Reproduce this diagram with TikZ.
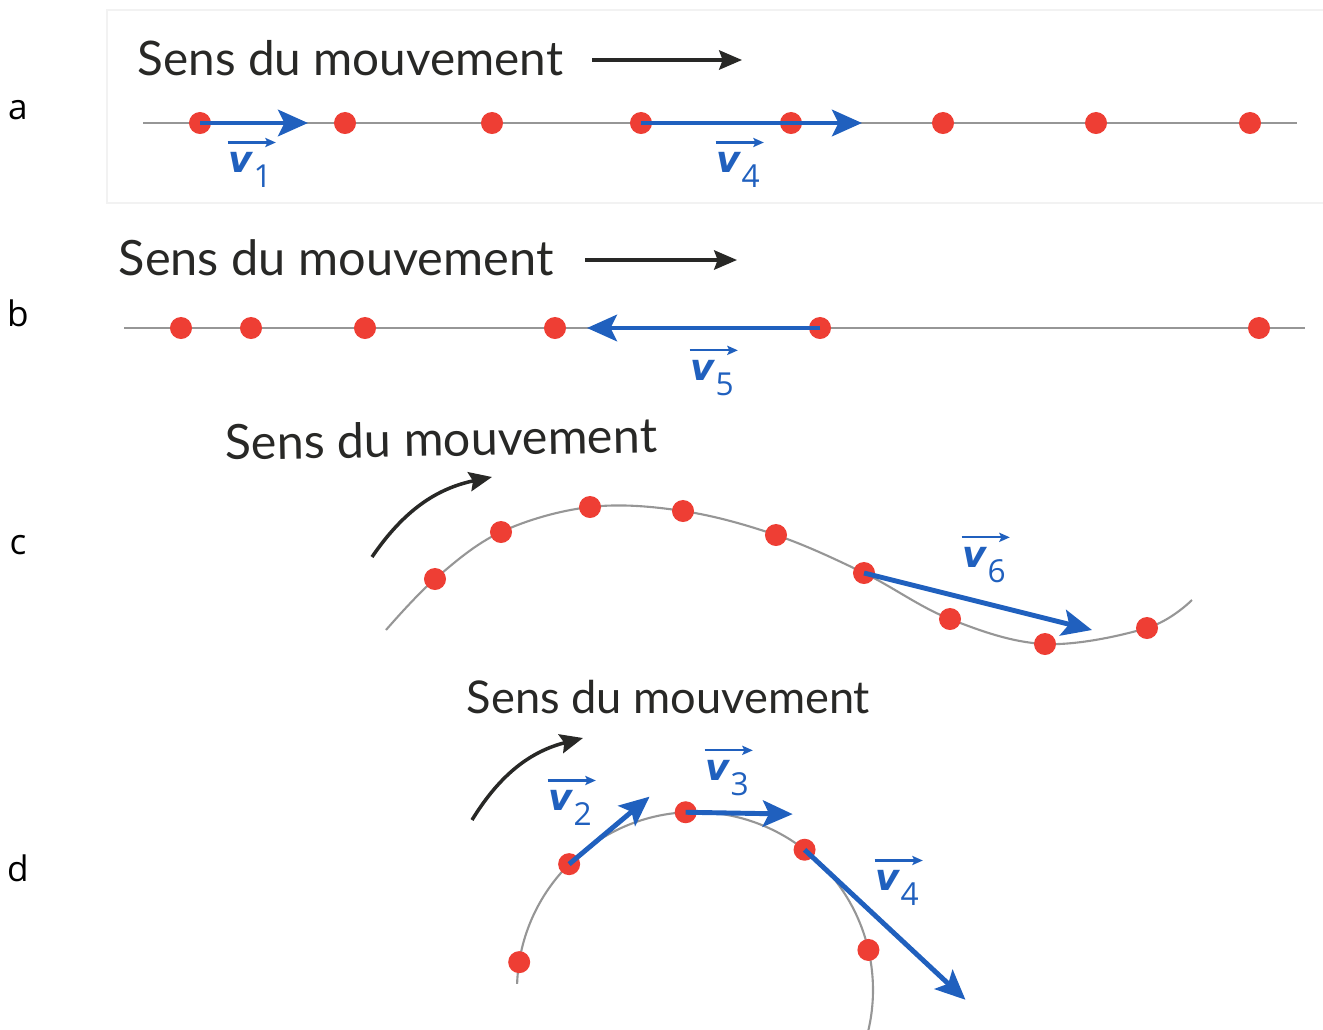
\documentclass[tikz,border=0pt]{standalone}
\usepackage{fontspec}
\setmainfont{Lato}
\newfontfamily\labfont{Open Sans}
\newfontfamily\vfont{DejaVu Sans}
\usetikzlibrary{arrows.meta,positioning,calc}
\definecolor{dotred}{RGB}{238,62,52}
\definecolor{vecblue}{RGB}{32,96,190}
\definecolor{trackgray}{RGB}{150,150,150}
\definecolor{inkdark}{RGB}{40,40,38}
% label of a velocity vector: name, position, index
\newcommand{\vname}[3]{%
  \node[vlabel] (#1) at (#2) {{\vfont\bfseries\itshape v}\kern0.3pt\raisebox{-4.3pt}{\fontsize{9}{10}\selectfont\labfont #3}};
  \draw[vtop] ([yshift=2.6pt]#1.north west) -- ([xshift=1pt,yshift=2.6pt]#1.north east);}

\begin{document}
\begin{tikzpicture}[
    x=0.01cm, y=0.01cm,
    track/.style={draw=trackgray, line width=0.6pt},
    dot/.style={circle, fill=dotred, inner sep=0pt, minimum size=0.22cm},
    vec/.style={draw=vecblue, line width=1.4pt, -{Stealth[length=8.5pt,width=7.5pt,inset=1.8pt]}},
    vtop/.style={draw=vecblue, line width=0.6pt, -{Stealth[length=3pt,width=2.6pt,inset=0.6pt]}},
    motion/.style={draw=inkdark, line width=1pt, -{Stealth[length=6.5pt,width=5.5pt,inset=1pt]}},
    title/.style={text=inkdark, inner sep=0pt, anchor=base west},
    vlabel/.style={text=vecblue, font=\fontsize{10.5}{12}\selectfont, inner sep=0pt},
    panel/.style={font=\labfont\fontsize{10}{12}\selectfont, inner sep=0pt}
]
\useasboundingbox (0,0) rectangle (1323,-1030);

% panel a
\draw[black!5] (107,-10) rectangle (1330,-203);
\node[panel] (pa) at (18,-110) {a};
\node[title, font=\fontsize{13.55}{16}\selectfont] (ta) at (137,-75) {Sens du mouvement};
\coordinate (ma1) at (592,-60);
\coordinate (ma2) at (742,-60);
\draw[motion] (ma1) -- (ma2);
\coordinate (aL) at (143,-123);
\coordinate (aR) at (1297,-123);
\draw[track] (aL) -- (aR);
\foreach \x [count=\i] in {200,345,492,641,791,943,1096,1250}
    \node[dot] (a\i) at (\x,-123) {};
\coordinate (v1tip) at (308,-123);
\coordinate (v4tip) at (862,-123);
\draw[vec] (a1.center) -- (v1tip);
\draw[vec] (a4.center) -- (v4tip);
\vname{la1}{250,-170}{1}
\vname{la4}{738,-170}{4}

% panel b
\node[panel] (pb) at (18,-313) {b};
\node[title, font=\fontsize{13.85}{16}\selectfont] (tb) at (118,-275) {Sens du mouvement};
\coordinate (mb1) at (585,-260);
\coordinate (mb2) at (737,-260);
\draw[motion] (mb1) -- (mb2);
\coordinate (bL) at (124,-328);
\coordinate (bR) at (1305,-328);
\draw[track] (bL) -- (bR);
\foreach \x [count=\i] in {181,251,365,555,820,1259}
    \node[dot] (b\i) at (\x,-328) {};
\coordinate (v5tip) at (587,-328);
\draw[vec] (b5.center) -- (v5tip);
\vname{lb5}{712,-378}{5}

% panel c
\node[panel] (pc) at (18,-545) {c};
\node[title, font=\fontsize{13.75}{16}\selectfont, rotate=1] (tc) at (225,-460) {Sens du mouvement};
\coordinate (mc1) at (372,-557);
\coordinate (mc2) at (492,-477);
\draw[motion] (mc1) to[bend left=22] (mc2);
\draw[track] plot[smooth, tension=0.6] coordinates {(386,-630) (435,-579) (501,-532)
    (590,-507) (683,-511) (776,-535) (864,-573) (950,-619) (1045,-644) (1147,-628) (1192,-600)};
\foreach \x/\y [count=\i] in {435/579,501/532,590/507,683/511,776/535,864/573,950/619,1045/644,1147/628}
    \node[dot] (c\i) at (\x,-\y) {};
\coordinate (v6tip) at (1092,-630);
\draw[vec] (c6.center) -- (v6tip);
\vname{lc6}{984,-565}{6}

% panel d
\node[panel] (pd) at (18,-868) {d};
\node[title, font=\fontsize{12.85}{15}\selectfont] (td) at (466,-713) {Sens du mouvement};
\coordinate (md1) at (472,-820);
\coordinate (md2) at (583,-738);
\draw[motion] (md1) to[bend left=22] (md2);
\coordinate (dc) at (695,-990);
\draw[track] ([shift={(178:178)}]dc) arc[start angle=178, end angle=-13, radius=178];
\foreach \a [count=\i] in {171,135,93,52,13}
    \node[dot] (d\i) at ([shift={(\a:178)}]dc) {};
\coordinate (v2tip) at ([shift={(40:105)}]d2.center);
\coordinate (v3tip) at ([shift={(-1:107)}]d3.center);
\coordinate (v4dtip) at ([shift={(-43:220)}]d4.center);
\draw[vec] (d2.center) -- (v2tip);
\draw[vec] (d3.center) -- (v3tip);
\draw[vec] (d4.center) -- (v4dtip);
\vname{ld2}{570,-808}{2}
\vname{ld3}{727,-778}{3}
\vname{ld4}{897,-888}{4}
\end{tikzpicture}
\end{document}
